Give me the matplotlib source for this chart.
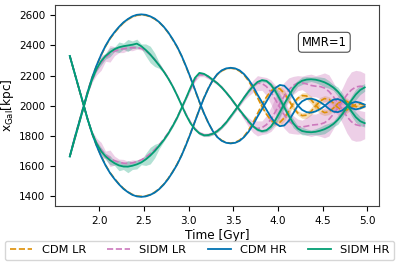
import numpy as np
from matplotlib import pyplot as plt

# time grid [Gyr]
time = np.round(np.linspace(1.67, 4.97, 67), 2)

# x positions [kpc] of the two galaxies (A starts high, B starts low)
cdm_hr_a = [2330, 2225, 2120, 2015, 1910, 1815, 1735, 1665, 1605, 1555, 1515, 1480, 1450, 1428, 1410, 1400, 1397,
            1400, 1410, 1425, 1448, 1478, 1515, 1560, 1610, 1670, 1740, 1815, 1895, 1975, 2050, 2115, 2170, 2210,
            2235, 2248, 2252, 2248, 2235, 2210, 2175, 2130, 2075, 2025, 1975, 1925, 1885, 1865, 1870, 1900, 1950,
            2000, 2030, 2045, 2048, 2040, 2025, 2005, 1980, 1962, 1958, 1970, 1995, 2018, 2027, 2020, 2008]
cdm_hr_b = [1665, 1778, 1883, 1988, 2093, 2188, 2268, 2338, 2398, 2448, 2488, 2523, 2553, 2575, 2593, 2603, 2606,
            2603, 2593, 2578, 2555, 2525, 2488, 2443, 2393, 2333, 2263, 2188, 2108, 2028, 1953, 1888, 1833, 1793,
            1768, 1755, 1751, 1755, 1768, 1793, 1828, 1873, 1928, 1978, 2028, 2078, 2118, 2138, 2133, 2103, 2053,
            2003, 1973, 1958, 1955, 1963, 1978, 1998, 2023, 2041, 2045, 2033, 2008, 1985, 1976, 1983, 1995]
cdm_lr_a = [2330, 2224, 2118, 2012, 1908, 1814, 1736, 1668, 1608, 1558, 1518, 1483, 1453, 1430, 1413, 1403, 1400,
            1403, 1412, 1428, 1450, 1480, 1518, 1563, 1613, 1673, 1743, 1818, 1898, 1978, 2052, 2117, 2170, 2208,
            2232, 2246, 2250, 2245, 2230, 2205, 2165, 2115, 2055, 1995, 1945, 1905, 1885, 1890, 1920, 1965, 2015,
            2050, 2068, 2065, 2040, 2005, 1972, 1955, 1960, 1985, 2015, 2033, 2030, 2012, 1995, 1990, 1998]
cdm_lr_b = [1665, 1779, 1885, 1991, 2095, 2189, 2267, 2335, 2395, 2445, 2485, 2520, 2550, 2573, 2590, 2600, 2603,
            2600, 2591, 2575, 2553, 2523, 2485, 2440, 2390, 2330, 2260, 2185, 2105, 2025, 1951, 1886, 1833, 1795,
            1771, 1757, 1753, 1758, 1773, 1798, 1838, 1888, 1948, 2008, 2058, 2098, 2118, 2113, 2083, 2038, 1988,
            1953, 1935, 1938, 1963, 1998, 2031, 2048, 2043, 2018, 1988, 1970, 1973, 1991, 2008, 2013, 2005]
sidm_hr_a = [2330, 2225, 2120, 2015, 1910, 1820, 1750, 1700, 1665, 1640, 1620, 1605, 1598, 1597, 1603, 1612, 1625,
             1645, 1670, 1700, 1735, 1772, 1815, 1865, 1920, 1985, 2050, 2120, 2185, 2218, 2212, 2195, 2172, 2150,
             2122, 2088, 2052, 2012, 1972, 1935, 1898, 1865, 1842, 1832, 1838, 1862, 1905, 1958, 2012, 2065, 2115,
             2148, 2166, 2174, 2176, 2173, 2166, 2156, 2141, 2121, 2094, 2058, 2012, 1965, 1925, 1898, 1885]
sidm_hr_b = [1665, 1770, 1875, 1980, 2085, 2175, 2245, 2295, 2330, 2355, 2375, 2388, 2395, 2400, 2405, 2412, 2395,
             2370, 2340, 2305, 2268, 2228, 2182, 2130, 2070, 2005, 1940, 1885, 1845, 1818, 1805, 1806, 1815, 1832,
             1858, 1890, 1930, 1970, 2012, 2055, 2095, 2130, 2158, 2170, 2165, 2140, 2098, 2045, 1990, 1935, 1885,
             1850, 1833, 1827, 1825, 1828, 1835, 1845, 1860, 1880, 1908, 1945, 1990, 2035, 2075, 2105, 2122]
sidm_lr_a = [2330, 2225, 2120, 2015, 1910, 1820, 1755, 1708, 1675, 1652, 1637, 1627, 1620, 1618, 1622, 1630, 1642,
             1660, 1683, 1710, 1742, 1778, 1820, 1868, 1922, 1985, 2048, 2110, 2172, 2205, 2205, 2190, 2172, 2150,
             2122, 2088, 2050, 2010, 1970, 1928, 1890, 1862, 1850, 1855, 1875, 1910, 1960, 2015, 2065, 2105, 2135,
             2150, 2152, 2145, 2135, 2130, 2128, 2118, 2095, 2060, 2020, 1975, 1930, 1895, 1875, 1868, 1872]
sidm_lr_b = [1665, 1770, 1875, 1980, 2085, 2170, 2235, 2285, 2320, 2345, 2362, 2372, 2378, 2382, 2385, 2385, 2380,
             2365, 2340, 2308, 2270, 2230, 2185, 2132, 2072, 2008, 1945, 1890, 1848, 1820, 1808, 1808, 1818, 1835,
             1860, 1892, 1930, 1970, 2012, 2055, 2095, 2130, 2150, 2148, 2128, 2092, 2042, 1990, 1940, 1900, 1875,
             1862, 1860, 1865, 1872, 1875, 1878, 1888, 1910, 1945, 1985, 2028, 2072, 2105, 2125, 2130, 2125]

# scatter (half width of shaded band) [kpc]
cdm_lr_err = [4] * 41 + [6, 8, 10, 12, 15, 18, 20, 22, 20, 18, 15, 18, 22, 25, 28, 25, 20, 18, 20, 22, 25, 22, 18,
                         15, 12, 10]
sidm_hr_err = [5, 5, 5, 5, 5, 5, 15, 25, 20, 30, 15, 35, 20, 40, 25, 30, 15, 40, 55, 45, 20, 10,
               8, 8, 8, 8, 8, 8, 8, 8, 8, 8, 8, 8, 8, 8,
               10, 10, 10, 10, 10, 10, 10, 10, 10,
               15, 25, 30, 20, 25, 30, 20, 25, 20, 15, 20, 25, 30, 25, 20, 30, 25, 20, 30, 35, 30, 25]
sidm_lr_err = [5, 5, 5, 5, 5, 15, 30, 50, 25, 55, 30, 20, 25, 15, 20, 10,
               10, 10, 10, 10, 10, 10, 10, 10, 10, 10, 10,
               12, 12, 12, 12, 12, 12, 12, 12, 12, 12, 12,
               15, 20, 30, 40, 50, 45, 60, 80, 95, 100, 90, 80, 60, 50, 45, 60, 75, 70, 80, 100, 110, 95, 80,
               90, 110, 120, 110, 100, 90]

c_cdm_lr = '#de8f05'
c_sidm_lr = '#cc78bc'
c_cdm_hr = '#0173b2'
c_sidm_hr = '#029e73'

fig = plt.figure(figsize=(3.99, 2.67), dpi=100)
ax = fig.add_axes([0.138, 0.228, 0.813, 0.753])

def band(y, err, color, alpha):
    y = np.array(y)
    e = np.array(err)
    ax.fill_between(time, y - e, y + e, color=color, alpha=alpha, lw=0)

for y in (cdm_lr_a, cdm_lr_b):
    band(y, cdm_lr_err, c_cdm_lr, 0.3)
for y in (sidm_lr_a, sidm_lr_b):
    band(y, sidm_lr_err, c_sidm_lr, 0.35)
for y in (sidm_hr_a, sidm_hr_b):
    band(y, sidm_hr_err, c_sidm_hr, 0.3)

ax.plot(time, cdm_lr_a, '--', color=c_cdm_lr, lw=1.2, label='CDM LR')
ax.plot(time, cdm_lr_b, '--', color=c_cdm_lr, lw=1.2)
ax.plot(time, sidm_lr_a, '--', color=c_sidm_lr, lw=1.2, label='SIDM LR')
ax.plot(time, sidm_lr_b, '--', color=c_sidm_lr, lw=1.2)
ax.plot(time, cdm_hr_a, '-', color=c_cdm_hr, lw=1.3, label='CDM HR')
ax.plot(time, cdm_hr_b, '-', color=c_cdm_hr, lw=1.3)
ax.plot(time, sidm_hr_a, '-', color=c_sidm_hr, lw=1.3, label='SIDM HR')
ax.plot(time, sidm_hr_b, '-', color=c_sidm_hr, lw=1.3)

ax.set_xticks([2.0, 2.5, 3.0, 3.5, 4.0, 4.5, 5.0])
ax.set_yticks([1400, 1600, 1800, 2000, 2200, 2400, 2600])
ax.tick_params(labelsize=7.5, length=3.5, width=0.8)
for s in ax.spines.values():
    s.set_color('0.25')
ax.set_xlabel('Time [Gyr]', fontsize=8.7, labelpad=2)
ax.set_ylabel(r'x$_{\rm Gal}$[kpc]', fontsize=8.7, labelpad=2)

ax.text(0.83, 0.815, 'MMR=1', transform=ax.transAxes, fontsize=8.3, ha='center', va='center',
        bbox=dict(boxstyle='round,pad=0.3', fc='white', ec='0.3', lw=0.8))

fig.legend(loc='lower center', bbox_to_anchor=(0.5, 0.005), ncol=4, fontsize=8.2,
           handlelength=2.0, handletextpad=0.8, columnspacing=1.9, borderpad=0.4)

fig.savefig('out.png', dpi=100)
